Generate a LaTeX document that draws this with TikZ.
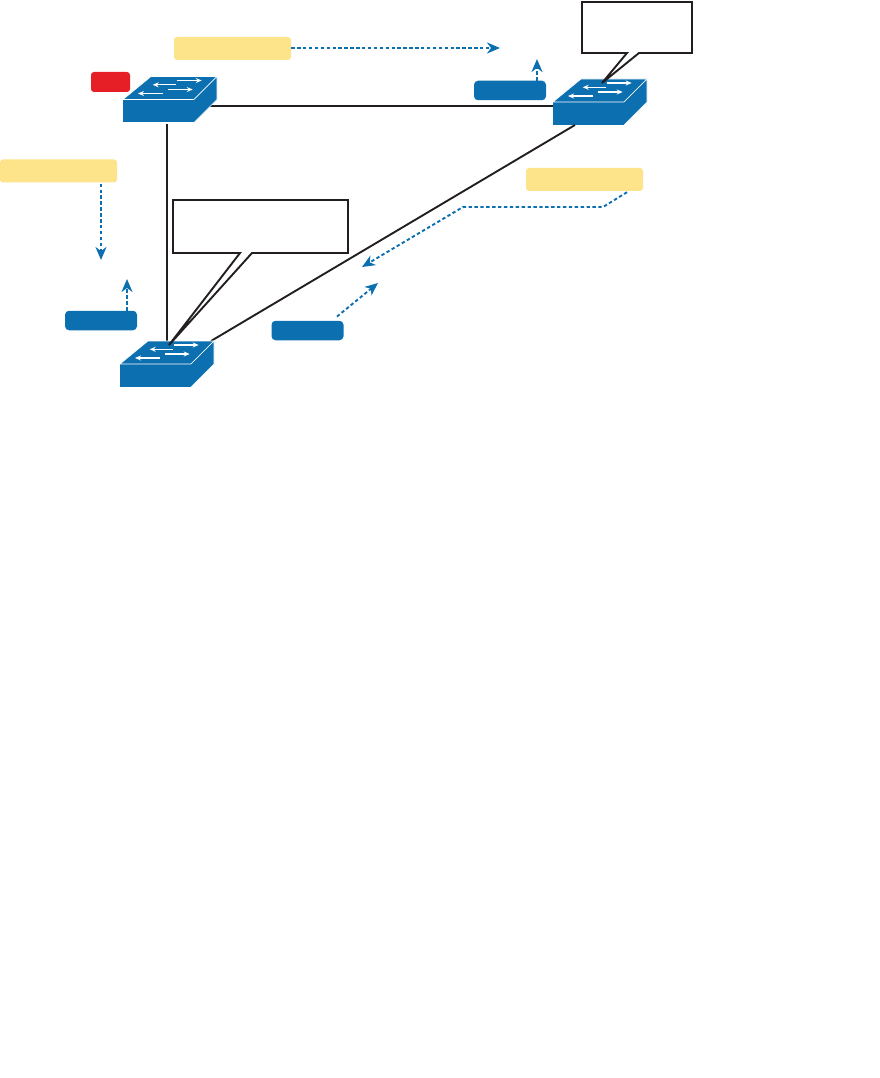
\documentclass[tikz,border=0pt]{standalone}
\usetikzlibrary{arrows.meta}
\definecolor{swblue}{HTML}{0C6FAF}
\definecolor{tagyellow}{HTML}{FDE38A}
\definecolor{tagred}{HTML}{E61E25}
\definecolor{linkblack}{HTML}{231F20}
\begin{document}
\begin{tikzpicture}[
    x=1pt, y=-1pt,
    switch/.style={rectangle, fill=swblue, inner sep=0pt, outer sep=0pt, minimum width=71pt, minimum height=23pt},
    yellowtag/.style={rectangle, rounded corners=3pt, fill=tagyellow, inner sep=0pt, minimum width=117pt, minimum height=23pt},
    bluetag/.style={rectangle, rounded corners=4pt, fill=swblue, inner sep=0pt, minimum width=72pt, minimum height=19.5pt},
    redtag/.style={rectangle, rounded corners=3pt, fill=tagred, inner sep=0pt, minimum width=39pt, minimum height=20pt},
    link/.style={draw=linkblack, line width=1.9pt},
    notebox/.style={draw=linkblack, fill=white, line width=1.9pt},
    flow/.style={draw=swblue, line width=1.9pt, dash pattern=on 3.4pt off 2.5pt, -{Stealth[length=13pt, width=11pt, inset=4pt]}}
]
\useasboundingbox (0,0) rectangle (880,1078);

\node[switch] (sw1) at (158.5,111) {};
\node[switch] (sw2) at (588.5,113.5) {};
\node[switch] (sw3) at (155.5,375.5) {};

\draw[link] ([yshift=5pt]sw1.east) -- ([yshift=7.5pt]sw2.west);
\draw[link] ([xshift=8.5pt,yshift=-1.5pt]sw1.south) -- ([xshift=11.5pt,yshift=23pt]sw3.north);
\draw[link] ([xshift=-13.5pt]sw2.south) -- ([xshift=55.5pt,yshift=23pt]sw3.north);

\foreach \name in {sw1,sw2,sw3} {
    \begin{scope}[shift={(\name.north west)}]
        \draw[fill=swblue, draw=white, line width=0.6pt] (0,0) -- (28,-23) -- (94,-23) -- (71,0) -- cycle;
        \draw[fill=swblue, draw=white, line width=0.6pt] (71,0) -- (94,-23) -- (94,0) -- (71,23);
        \foreach \xa/\xb/\ya in {53.7/78.7/-19, 53/29.7/-14.7, 44.7/69.7/-10, 40/15/-6} {
            \draw[white, line width=1.1pt, -{Stealth[length=6pt, width=5pt]}] (\xa,\ya) -- (\xb,\ya);
        }
    \end{scope}
}

\draw[notebox] (173,200) -- (348,200) -- (348,253) -- (252,253) -- (169,345) -- (240,253) -- (173,253) -- cycle;
\draw[notebox] (582,2) -- (692,2) -- (692,53) -- (639,53) -- (602,83) -- (627,53) -- (582,53) -- cycle;

\node[redtag] (portred) at (110.5,82) {};
\node[yellowtag] (rootA) at (232.5,48.5) {};
\node[yellowtag] (rootB) at (58.5,171) {};
\node[yellowtag] (rootC) at (584.5,179.5) {};
\node[bluetag] (costA) at (510,90.5) {};
\node[bluetag] (costB) at (101,320.5) {};
\node[bluetag] (costC) at (307.5,330.5) {};

\coordinate (tipA) at (500,48);
\coordinate (tipB) at (101,260);
\coordinate (tipC) at (362,267);
\coordinate (bendA) at (603,207);
\coordinate (bendB) at (463,207);
\coordinate (tipD) at (537,59);
\coordinate (tipE) at (127,279);
\coordinate (tipF) at (378,283);

\draw[flow] (rootA.east |- tipA) -- (tipA);
\draw[flow] ([yshift=-1pt]tipB |- rootB.south) -- (tipB);
\draw[flow] ([xshift=42.5pt,yshift=-1pt]rootC.south) -- (bendA) -- (bendB) -- (tipC);
\draw[flow] (tipD |- costA.north) -- (tipD);
\draw[flow] (tipE |- costB.north) -- (tipE);
\draw[flow] ([xshift=29.5pt,yshift=4pt]costC.north) -- (tipF);
\end{tikzpicture}
\end{document}
